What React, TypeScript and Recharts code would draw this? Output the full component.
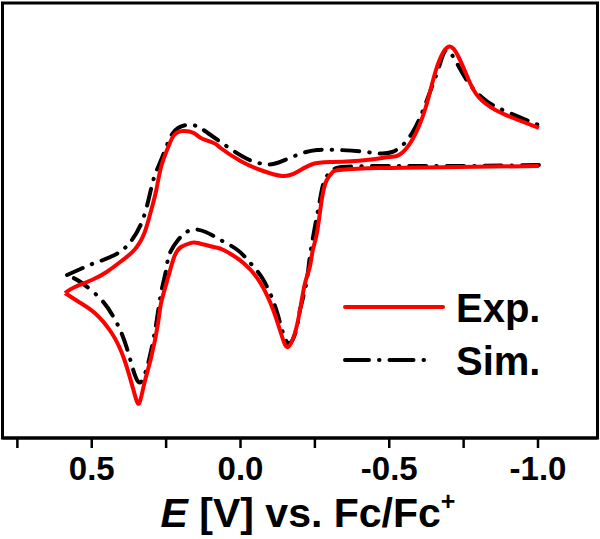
import React from 'react';
import { LineChart, Line, XAxis, YAxis, ReferenceArea, Legend, Label } from 'recharts';

// Experimental CV (potential in V vs Fc/Fc+, current in arbitrary units), scan order.
// null marks the break at the -1.0 V switching end.
const expE = [
  0.590, 0.557, 0.500, 0.450, 0.400, 0.357, 0.323, 0.300, 0.283, 0.267, 0.243, 0.223, 0.193,
  0.157, 0.133, 0.090, 0.067, 0.000, -0.067, -0.140, -0.190, -0.243, -0.310, -0.423, -0.500, -0.533,
  -0.577, -0.623, -0.657, -0.697, -0.733, -0.767, -0.800, -0.857, -0.933, -1.003,
  -1.003,
  -1.003, -0.733, -0.467, -0.333, -0.310, -0.290, -0.273, -0.257, -0.243, -0.233, -0.217, -0.200,
  -0.183, -0.160, -0.140, -0.110, -0.067, -0.010, 0.057, 0.090, 0.143, 0.167, 0.200, 0.223, 0.243,
  0.267, 0.277, 0.300, 0.323, 0.340, 0.357, 0.390, 0.433, 0.490, 0.543, 0.590,
];
const expI = [
  0.7, 1.3, 2.0, 2.8, 3.9, 5.0, 6.7, 9.0, 11.0, 13.3, 15.3, 16.5, 16.9,
  16.7, 16.2, 15.7, 15.2, 13.9, 13.0, 12.4, 12.8, 13.6, 13.8, 14.0, 14.3, 14.5,
  16.0, 19.3, 23.0, 25.3, 24.3, 22.0, 20.3, 19.0, 18.0, 17.2,
  null,
  13.4, 13.3, 13.2, 13.0, 12.8, 12.0, 10.0, 6.7, 5.0, 3.3, 1.7, -1.0,
  -3.3, -4.7, -3.7, -1.0, 1.7, 3.7, 5.0, 5.3, 5.7, 5.7, 5.3, 4.3, 2.3,
  -0.3, -2.3, -5.7, -8.3, -10.3, -9.3, -6.0, -3.3, -1.3, -0.2, 0.7,
];

// Simulated CV
const simE = [
  0.583, 0.523, 0.490, 0.423, 0.373, 0.333, 0.307, 0.290, 0.267, 0.240, 0.210, 0.160, 0.110, 0.043,
  -0.023, -0.077, -0.123, -0.190, -0.257, -0.333, -0.423, -0.510, -0.577, -0.623, -0.667, -0.693,
  -0.727, -0.767, -0.810, -0.867, -0.977, -1.003,
  -1.003,
  -1.003, -0.733, -0.467, -0.343, -0.310, -0.283, -0.267, -0.250, -0.233, -0.220, -0.200, -0.190,
  -0.167, -0.143, -0.117, -0.077, -0.033, 0.010, 0.067, 0.117, 0.167, 0.210, 0.240, 0.250, 0.267,
  0.283, 0.300, 0.317, 0.343, 0.373, 0.400, 0.427, 0.467, 0.533, 0.583,
];
const simI = [
  2.5, 3.3, 3.7, 4.5, 5.7, 7.7, 10.3, 12.3, 14.0, 16.0, 17.2, 17.5, 16.7, 15.3,
  14.1, 13.6, 13.7, 14.5, 15.0, 15.0, 14.8, 14.8, 16.7, 19.7, 23.3, 25.0,
  23.7, 21.7, 20.3, 19.2, 17.8, 17.5,
  null,
  13.5, 13.4, 13.4, 13.3, 13.0, 12.0, 10.0, 7.3, 4.3, 1.5, -1.0, -2.7,
  -4.3, -3.3, -0.7, 2.0, 3.7, 5.0, 6.0, 6.8, 7.0, 6.0, 4.5, 3.0, 0.7,
  -2.3, -5.0, -7.0, -8.2, -5.7, -3.3, -1.7, 0.0, 1.7, 2.5,
];

const xTicks = [0.75, 0.5, 0.25, 0, -0.25, -0.5, -0.75, -1.0];
const xTickLabels: Record<string, string> = { '0.5': '0.5', '0': '0.0', '-0.5': '-0.5', '-1': '-1.0' };

const X_DOMAIN: [number, number] = [-1.2, 0.8];
const Y_DOMAIN: [number, number] = [-13.8, 29.7];

const expData = expE.map((e, i) => ({ E: e, I: expI[i] }));
const simData = simE.map((e, i) => ({ E: e, I: simI[i] }));

const FONT = '"Liberation Sans", Arial, Helvetica, sans-serif';

const Tick = (props: any) => {
  const { x, y, payload } = props;
  const label = xTickLabels[String(payload.value)] ?? '';
  return (
    <text x={x} y={y} dy={30} textAnchor="middle" fontFamily={FONT} fontWeight="bold" fontSize={33} fill="#000">
      {label}
    </text>
  );
};

const Title = (props: any) => {
  const vb = props.viewBox || { x: 2.5, y: 438, width: 595, height: 101 };
  return (
    <text x={308} y={vb.y + 89} textAnchor="middle" fontFamily={FONT} fontWeight="bold" fontSize={41} fill="#000">
      <tspan fontStyle="italic">E</tspan>
      <tspan> [V] vs. Fc/Fc</tspan>
      <tspan dy={-17} fontSize={25}>+</tspan>
    </text>
  );
};

const legendStyles: Record<string, { dash?: string }> = {
  'Exp.': {},
  'Sim.': { dash: '24 10 0.5 10' },
};

const LegendContent = (props: any) => {
  const items = props.payload || [];
  return (
    <svg width={230} height={110}>
      {items.map((it: any, i: number) => {
        const cy = 22 + i * 53;
        const st = legendStyles[it.value] || {};
        return (
          <g key={it.value}>
            <line x1={7} x2={st.dash ? 95 : 105} y1={cy} y2={cy} stroke={it.color} strokeWidth={4}
              strokeDasharray={st.dash} strokeLinecap="round" />
            <text x={118} y={cy + 15} fontFamily={FONT} fontWeight="bold" fontSize={40} fill="#000">{it.value}</text>
          </g>
        );
      })}
    </svg>
  );
};

export default function App() {
  return (
    <div style={{ position: 'absolute', left: 0, top: 0, width: 600, height: 539, background: '#fff' }}>
      <LineChart width={600} height={539} margin={{ top: 3, right: 2.5, left: 2.5, bottom: 0 }}>
        <XAxis
          type="number"
          dataKey="E"
          domain={X_DOMAIN}
          reversed
          allowDataOverflow
          ticks={xTicks}
          interval={0}
          height={101}
          tickSize={10}
          tickLine={{ stroke: '#000', strokeWidth: 2.5 }}
          axisLine={{ stroke: '#000', strokeWidth: 3 }}
          tick={<Tick />}
        >
          <Label content={<Title />} />
        </XAxis>
        <YAxis type="number" dataKey="I" domain={Y_DOMAIN} hide allowDataOverflow />
        <ReferenceArea x1={X_DOMAIN[1]} x2={X_DOMAIN[0]} y1={Y_DOMAIN[0]} y2={Y_DOMAIN[1]}
          fill="none" fillOpacity={0} stroke="#000" strokeWidth={3} ifOverflow="visible" />
        <Legend
          layout="vertical"
          align="center"
          verticalAlign="middle"
          content={<LegendContent />}
          wrapperStyle={{ position: 'absolute', left: 338, top: 285, width: 230, height: 110 }}
        />
        <Line data={simData} dataKey="I" name="Sim." type="natural" stroke="#000" strokeWidth={4}
          strokeDasharray="17 10 0.5 10" strokeLinecap="round" dot={false} isAnimationActive={false} />
        <Line data={expData} dataKey="I" name="Exp." type="natural" stroke="#ff0000" strokeWidth={4}
          dot={false} isAnimationActive={false} />
      </LineChart>
    </div>
  );
}
